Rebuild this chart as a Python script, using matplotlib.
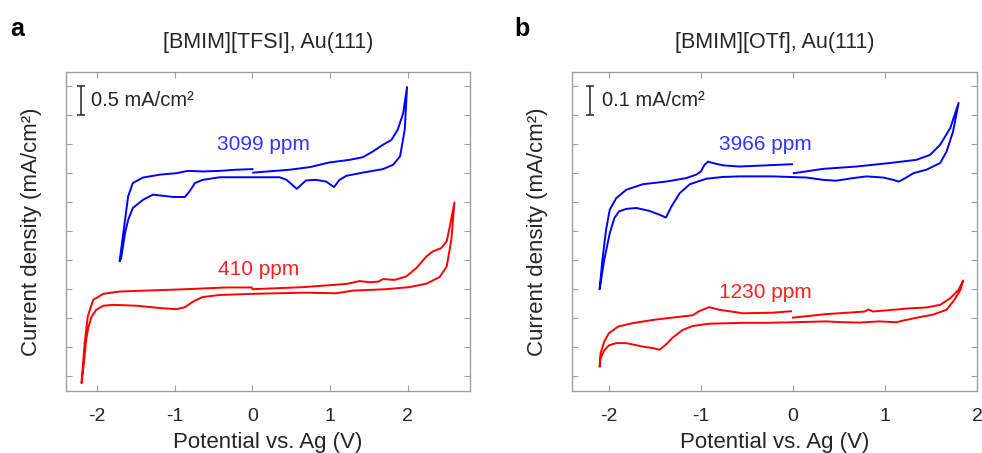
import numpy as np
import matplotlib
matplotlib.use('Agg')
import matplotlib.pyplot as plt

plt.rcParams['font.family'] = ['Liberation Sans', 'DejaVu Sans']
plt.rcParams['axes.unicode_minus'] = False

# --- data (potential in V, current in tick units; 1 unit = scale bar) ---
# panel a: [BMIM][TFSI], 1 unit = 0.5 mA/cm2
a_blue_v = [0.01, 0.48, 0.74, 0.99, 1.25, 1.42, 1.55, 1.68, 1.79, 1.87, 1.94, 1.99,
            1.96, 1.90, 1.81, 1.68, 1.42, 1.21, 1.12, 1.05, 0.95, 0.82, 0.69, 0.57,
            0.44, 0.35, 0.01, -0.42, -0.64, -0.74, -0.81, -0.87, -1.02, -1.28, -1.41,
            -1.54, -1.60, -1.64, -1.69, -1.71,
            -1.64, -1.60, -1.54, -1.41, -1.19, -0.98, -0.83, -0.64, -0.42, -0.21, 0.0]
a_blue_i = [7.03, 7.13, 7.22, 7.38, 7.47, 7.56, 7.76, 7.99, 8.16, 8.51, 9.08, 9.98,
            8.51, 7.59, 7.30, 7.15, 7.03, 6.92, 6.78, 6.53, 6.72, 6.78, 6.76, 6.47,
            6.78, 6.87, 6.87, 6.87, 6.78, 6.67, 6.38, 6.19, 6.19, 6.27, 6.09,
            5.81, 5.40, 4.94, 4.08, 3.97,
            5.40, 6.21, 6.67, 6.86, 6.96, 7.01, 7.09, 7.07, 7.09, 7.13, 7.15]
a_red_v = [0.0, 0.65, 0.95, 1.21, 1.38, 1.51, 1.62, 1.68, 1.83, 1.98, 2.11, 2.24,
           2.32, 2.43, 2.50, 2.54, 2.60,
           2.56, 2.50, 2.41, 2.24, 2.02, 1.72, 1.29, 1.08, 0.65, 0.0, -0.42, -0.64,
           -0.76, -0.87, -0.98, -1.19, -1.49, -1.79, -1.92, -2.01, -2.07, -2.11,
           -2.14, -2.17, -2.20,
           -2.16, -2.12, -2.05, -1.92, -1.71, -1.28, -0.85, -0.33, -0.01]
a_red_i = [3.01, 3.08, 3.14, 3.19, 3.29, 3.25, 3.27, 3.36, 3.33, 3.45, 3.74, 4.14,
           4.31, 4.43, 4.66, 5.17, 6.0,
           4.71, 3.79, 3.43, 3.20, 3.08, 3.01, 2.96, 2.87, 2.89, 2.85, 2.81, 2.74,
           2.59, 2.39, 2.32, 2.36, 2.44, 2.47, 2.44, 2.30, 2.07, 1.72,
           1.27, 0.46, -0.23,
           1.15, 2.07, 2.64, 2.85, 2.93, 2.97, 3.01, 3.07, 3.07]

# panel b: [BMIM][OTf], 1 unit = 0.1 mA/cm2
b_blue_v = [0.01, 0.33, 0.69, 1.05, 1.34, 1.49, 1.60, 1.71, 1.80,
            1.74, 1.67, 1.60, 1.45, 1.31, 1.22, 1.15, 1.09, 0.98, 0.80, 0.65, 0.47,
            0.33, 0.15, -0.22, -0.58, -0.76, -0.94, -1.12, -1.23, -1.32, -1.38,
            -1.45, -1.56, -1.70, -1.81, -1.89, -1.94, -1.99, -2.05, -2.10,
            -2.07, -2.03, -1.99, -1.92, -1.81, -1.63, -1.38, -1.16, -1.05, -1.0,
            -0.96, -0.92, -0.87, -0.76, -0.58, -0.29, -0.01]
b_blue_i = [7.01, 7.16, 7.24, 7.36, 7.47, 7.64, 7.99, 8.57, 9.43,
            8.45, 7.76, 7.36, 7.13, 7.01, 6.84, 6.72, 6.78, 6.86, 6.90, 6.84, 6.75,
            6.78, 6.86, 6.90, 6.90, 6.88, 6.82, 6.63, 6.32, 5.86, 5.48,
            5.58, 5.71, 5.81, 5.78, 5.69, 5.46, 4.94, 4.02, 3.01,
            4.02, 5.06, 5.75, 6.15, 6.44, 6.63, 6.72, 6.84, 6.96, 7.07,
            7.30, 7.41, 7.36, 7.28, 7.24, 7.28, 7.32]
b_red_v = [0.0, 0.18, 0.36, 0.65, 0.78, 0.82, 0.87, 1.09, 1.27, 1.45, 1.60,
           1.71, 1.80, 1.85,
           1.82, 1.76, 1.67, 1.52, 1.38, 1.23, 1.12, 0.94, 0.73, 0.54, 0.36, 0.0,
           -0.29, -0.54, -0.91, -1.09, -1.20, -1.31, -1.38, -1.45, -1.52, -1.63,
           -1.81, -1.92, -2.0, -2.05, -2.09, -2.10,
           -2.09, -2.05, -2.0, -1.90, -1.74, -1.52, -1.31, -1.09, -1.02, -0.98,
           -0.91, -0.85, -0.80, -0.65, -0.54, -0.22, -0.02]
b_red_i = [2.03, 2.09, 2.15, 2.21, 2.24, 2.31, 2.24, 2.30, 2.35, 2.38, 2.47,
           2.70, 2.99, 3.31,
           2.99, 2.67, 2.30, 2.13, 2.05, 1.95, 1.87, 1.90, 1.86, 1.87, 1.90, 1.87,
           1.85, 1.85, 1.82, 1.74, 1.60, 1.33, 1.10, 0.92, 0.98, 1.03, 1.15, 1.15,
           1.07, 0.90, 0.63, 0.34,
           0.80, 1.20, 1.49, 1.72, 1.84, 1.95, 2.03, 2.11, 2.25, 2.30, 2.39, 2.34,
           2.30, 2.23, 2.18, 2.20, 2.25]

titles = ['[BMIM][TFSI], Au(111)', '[BMIM][OTf], Au(111)']
scale_labels = ['0.5 mA/cm²', '0.1 mA/cm²']
conc_labels = [('3099 ppm', '410 ppm'), ('3966 ppm', '1230 ppm')]
conc_pos = [((0.14, 8.0), (0.08, 3.7)), ((-0.30, 8.0), (-0.30, 2.9))]
xlims = [(-2.4, 2.8), (-2.4, 2.0)]

BLUE = '#0000ff'
RED = '#ff0000'
GRAY = '#a0a0a0'
TXT = '#262626'

fig = plt.figure(figsize=(9.82, 4.53), dpi=100)
axes = [fig.add_axes([0.0672, 0.1369, 0.4114, 0.7042]),
        fig.add_axes([0.5825, 0.1369, 0.4124, 0.7042])]

curves = [((a_blue_v, a_blue_i), (a_red_v, a_red_i)),
          ((b_blue_v, b_blue_i), (b_red_v, b_red_i))]

for k, ax in enumerate(axes):
    (bv, bi), (rv, ri) = curves[k]
    ax.plot(bv, bi, color=BLUE, lw=1.4, solid_joinstyle='round')
    ax.plot(rv, ri, color=RED, lw=1.4, solid_joinstyle='round')

    ax.set_xlim(*xlims[k])
    ax.set_ylim(-0.5, 10.5)
    ax.set_xticks([-2, -1, 0, 1, 2])
    ax.set_yticks(np.arange(0, 11))
    ax.set_yticklabels([])
    ax.tick_params(direction='in', length=4, width=0.8, color=GRAY,
                   labelsize=14, labelcolor=TXT, top=True, right=True)
    ax.tick_params(axis='x', pad=12)
    for s in ax.spines.values():
        s.set_color(GRAY)
        s.set_linewidth(1.0)

    ax.set_xlabel('Potential vs. Ag (V)', fontsize=16, color=TXT, labelpad=5)
    ax.set_ylabel('Current density (mA/cm²)', fontsize=16, color=TXT, labelpad=14)
    ax.set_title(titles[k], fontsize=15.5, color=TXT, pad=17)

    # scale bar
    sx = -2.21 if k == 0 else -2.205
    ax.errorbar([sx], [9.5], yerr=[0.5], color=TXT, lw=1.1, capsize=3, capthick=1.1)
    ax.text(sx + 0.13, 9.5, scale_labels[k], fontsize=14.5, color=TXT,
            ha='left', va='center')

    (t1, t2) = conc_labels[k]
    (p1, p2) = conc_pos[k]
    ax.text(p1[0], p1[1], t1, fontsize=15, color='#3535ff', ha='center', va='center')
    ax.text(p2[0], p2[1], t2, fontsize=15, color='#ff2020', ha='center', va='center')

fig.text(0.010, 0.92, 'a', fontsize=18, fontweight='bold', color='black')
fig.text(0.524, 0.92, 'b', fontsize=18, fontweight='bold', color='black')

fig.savefig('out.png', dpi=100)
